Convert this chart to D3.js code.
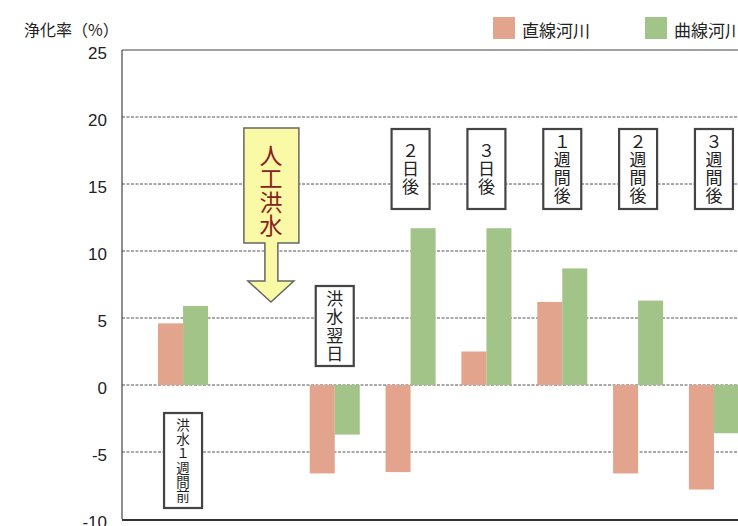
<!DOCTYPE html>
<html><head><meta charset="utf-8">
<script src="https://cdn.jsdelivr.net/npm/d3@7"></script>
<style>
html,body{margin:0;padding:0;background:#fff;}
svg{display:block;}
.vt{writing-mode:vertical-rl;text-orientation:upright;}
</style></head>
<body>
<svg id="c" width="738" height="526"></svg>
<script>
const categories = ["洪水1週間前","人工洪水","洪水翌日","2日後","3日後","1週間後","2週間後","3週間後"];
const straight = [4.6, null, -6.6, -6.5, 2.5, 6.2, -6.6, -7.8];
const curved   = [5.9, null, -3.7, 11.7, 11.7, 8.7, 6.3, -3.6];
const seriesNames = ["直線河川","曲線河川"];
const yTicks = [25,20,15,10,5,0,-5,-10];
const annotation = "人工洪水";

const colors = ["#e3a48d","#a2c489"];
const svg = d3.select("#c");
const L = 122, R = 775, T = 50, B = 519;

const y = d3.scaleLinear().domain([-10,25]).range([B,T]);
const x = d3.scaleBand().domain(categories).range([L,R]).paddingInner(0.34).paddingOuter(0.475);
const xs = d3.scaleBand().domain(seriesNames).range([0,x.bandwidth()]);

const font = "'Noto Sans CJK JP','Noto Sans',sans-serif";

// gridlines
svg.append("g").selectAll("line").data(yTicks.filter(t=>t>-10 && t<25)).join("line")
  .attr("x1",L).attr("x2",738).attr("y1",d=>y(d)).attr("y2",d=>y(d))
  .attr("stroke","#555").attr("stroke-width",1).attr("stroke-dasharray","3,1.5");

// frame
svg.append("line").attr("x1",L).attr("x2",738).attr("y1",y(25)).attr("y2",y(25)).attr("stroke","#444").attr("stroke-width",1.2);
svg.append("line").attr("x1",L).attr("x2",L).attr("y1",y(25)).attr("y2",y(-10)).attr("stroke","#444").attr("stroke-width",1.2);
svg.append("line").attr("x1",L).attr("x2",738).attr("y1",y(-10)+1).attr("y2",y(-10)+1).attr("stroke","#333").attr("stroke-width",2);

// y axis labels
const yAxis = d3.axisLeft(y).tickValues(yTicks).tickSize(0).tickPadding(15).tickFormat(d=>String(d));
const ga = svg.append("g").attr("transform",`translate(${L},0)`).call(yAxis);
ga.select(".domain").remove();
ga.selectAll("text").attr("font-family","'Liberation Sans',Arial,sans-serif").attr("font-size",17).attr("fill","#222").attr("dy","0.5em");

// bars
const data = categories.map((c,i)=>({c, vals:[straight[i],curved[i]]}));
const gb = svg.append("g");
data.forEach(d=>{
  d.vals.forEach((v,j)=>{
    if(v==null) return;
    gb.append("rect")
      .attr("x",x(d.c)+xs(seriesNames[j]))
      .attr("width",xs.bandwidth())
      .attr("y",y(Math.max(0,v)))
      .attr("height",Math.abs(y(v)-y(0)))
      .attr("fill",colors[j]);
  });
});

const toFull = s => Array.from(s).map(ch => /[0-9]/.test(ch) ? String.fromCharCode(ch.charCodeAt(0)+0xFEE0) : ch).join("");

function vtext(cx, cy, str, fs, step, color){
  svg.append("text").attr("class","vt").attr("x",cx).attr("y",cy)
    .attr("text-anchor","middle")
    .attr("font-family",font).attr("font-size",fs).attr("fill",color)
    .attr("letter-spacing",step-fs)
    .text(toFull(str));
}

// label boxes (vertical text)
function vbox(cat, top, bottom, fs, step){
  const cx = x(cat)+x.bandwidth()/2;
  const w = 38;
  svg.append("rect").attr("x",cx-w/2).attr("y",top).attr("width",w).attr("height",bottom-top)
    .attr("fill","#fff").attr("stroke","#444").attr("stroke-width",2.2);
  vtext(cx, (top+bottom)/2 + (step-fs)/2, cat, fs, step, "#222");
}
vbox(categories[0], 413, 508, 13.5, 14.2);
vbox(categories[2], 286, 366, 17, 18.5);
[3,4,5,6,7].forEach(i=>{
  vbox(categories[i], 129, 209, 17, 18);
});

// arrow annotation
const ax = x(categories[1])+x.bandwidth()/2 + 12;
const arrow = d3.path();
arrow.moveTo(ax-27,128); arrow.lineTo(ax+28,128); arrow.lineTo(ax+28,243);
arrow.lineTo(ax+7,243); arrow.lineTo(ax+7,281); arrow.lineTo(ax+23,281);
arrow.lineTo(ax,302); arrow.lineTo(ax-23,281); arrow.lineTo(ax-6,281);
arrow.lineTo(ax-6,243); arrow.lineTo(ax-27,243); arrow.closePath();
svg.append("path").attr("d",arrow.toString()).attr("fill","#f9f9a6").attr("stroke","#666").attr("stroke-width",1.5);
vtext(ax, 190.5, annotation, 23, 23.5, "#8a1c22");

// legend
const lx = [493, 645];
seriesNames.forEach((s,j)=>{
  svg.append("rect").attr("x",lx[j]).attr("y",17).attr("width",22).attr("height",22).attr("fill",colors[j]);
  svg.append("text").attr("x",lx[j]+29).attr("y",29).attr("dominant-baseline","central")
    .attr("font-family",font).attr("font-size",17).attr("fill","#222").text(s);
});

// y title
svg.append("text").attr("x",24).attr("y",29).attr("dominant-baseline","central")
  .attr("font-family",font).attr("font-size",16).attr("fill","#222").text("浄化率（%）");
</script>
</body></html>
